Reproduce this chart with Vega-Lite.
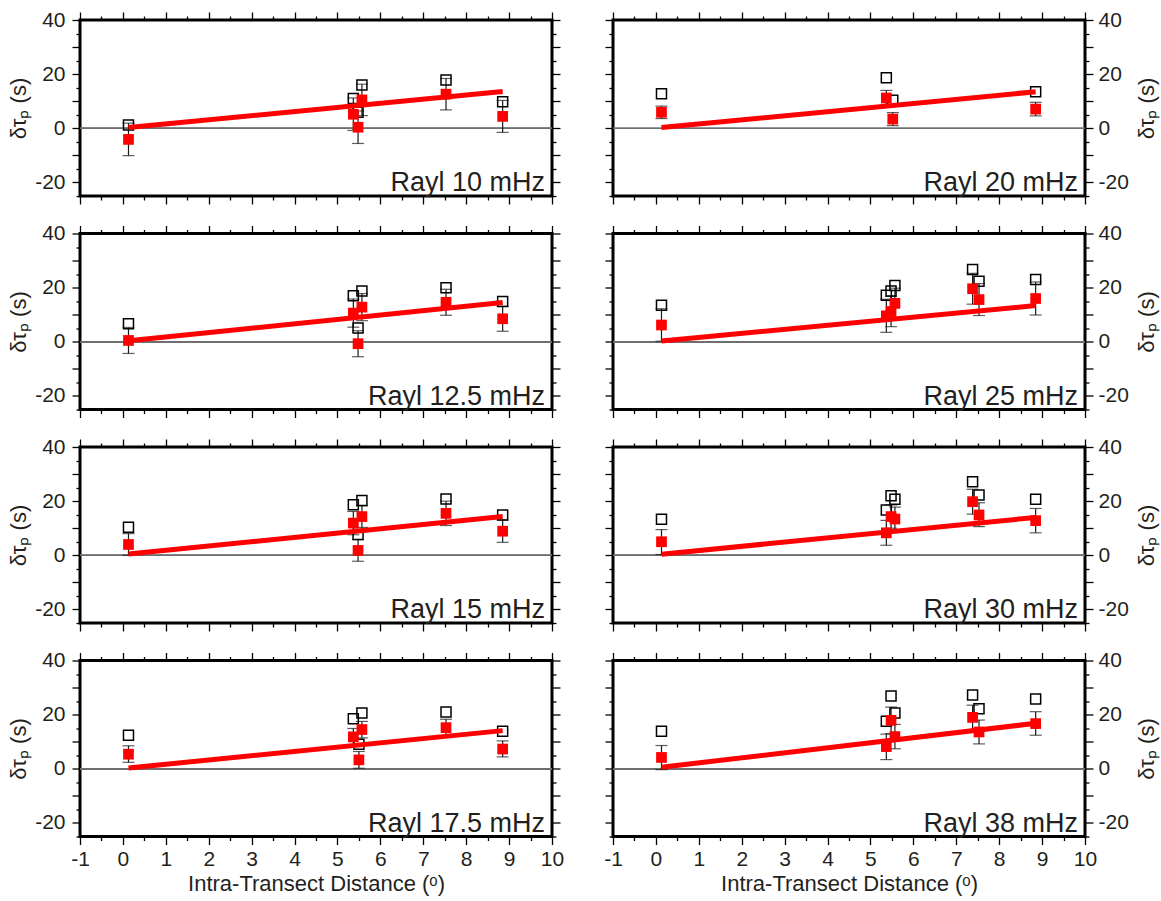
{
"$schema": "https://vega.github.io/schema/vega-lite/v6.json",
"padding": {"left": 6, "top": 7, "right": 5, "bottom": 5},
"background": "white",
"config": {
  "font": "Liberation Sans",
  "view": {"stroke": "black", "strokeWidth": 3},
  "axis": {"grid": false, "domain": false, "tickColor": "black", "tickWidth": 1.3, "labelFontSize": 21, "labelColor": "#231f20", "titleFontSize": 22, "titleFontWeight": "normal", "titleColor": "#231f20", "labelFont": "Liberation Sans", "titleFont": "Liberation Sans", "labelFlush": false, "labelOverlap": false}
},
"datasets": {
  "pts": [
    {"panel":"Rayl 10 mHz","d":0.13,"open":1.2,"red":-4.1,"lo":-10.1,"hi":1.9},
    {"panel":"Rayl 10 mHz","d":5.37,"open":11.0,"red":5.2,"lo":-0.8,"hi":11.2},
    {"panel":"Rayl 10 mHz","d":5.48,"open":5.9,"red":0.4,"lo":-5.6,"hi":6.4},
    {"panel":"Rayl 10 mHz","d":5.57,"open":16.0,"red":10.5,"lo":4.7,"hi":16.3},
    {"panel":"Rayl 10 mHz","d":7.53,"open":17.8,"red":12.6,"lo":6.8,"hi":18.4},
    {"panel":"Rayl 10 mHz","d":8.85,"open":9.8,"red":4.4,"lo":-1.5,"hi":10.3},
    {"panel":"Rayl 20 mHz","d":0.13,"open":12.8,"red":5.9,"lo":3.6,"hi":8.2},
    {"panel":"Rayl 20 mHz","d":5.37,"open":18.7,"red":11.2,"lo":8.4,"hi":14.0},
    {"panel":"Rayl 20 mHz","d":5.52,"open":10.4,"red":3.4,"lo":1.0,"hi":5.8},
    {"panel":"Rayl 20 mHz","d":8.85,"open":13.5,"red":7.1,"lo":4.6,"hi":9.6},
    {"panel":"Rayl 12.5 mHz","d":0.13,"open":6.7,"red":0.5,"lo":-4.3,"hi":5.3},
    {"panel":"Rayl 12.5 mHz","d":5.37,"open":17.0,"red":10.6,"lo":5.4,"hi":15.8},
    {"panel":"Rayl 12.5 mHz","d":5.48,"open":5.1,"red":-0.7,"lo":-5.5,"hi":4.1},
    {"panel":"Rayl 12.5 mHz","d":5.57,"open":18.8,"red":12.8,"lo":7.8,"hi":17.8},
    {"panel":"Rayl 12.5 mHz","d":7.53,"open":20.0,"red":14.6,"lo":9.8,"hi":19.4},
    {"panel":"Rayl 12.5 mHz","d":8.85,"open":14.9,"red":8.5,"lo":3.9,"hi":13.1},
    {"panel":"Rayl 25 mHz","d":0.13,"open":13.5,"red":6.2,"lo":0.2,"hi":12.2},
    {"panel":"Rayl 25 mHz","d":5.37,"open":17.2,"red":9.6,"lo":3.5,"hi":15.7},
    {"panel":"Rayl 25 mHz","d":5.48,"open":18.8,"red":11.2,"lo":5.6,"hi":16.8},
    {"panel":"Rayl 25 mHz","d":5.57,"open":20.8,"red":14.2,"lo":8.6,"hi":19.8},
    {"panel":"Rayl 25 mHz","d":7.38,"open":26.7,"red":19.6,"lo":13.9,"hi":25.3},
    {"panel":"Rayl 25 mHz","d":7.53,"open":22.4,"red":15.6,"lo":9.7,"hi":21.5},
    {"panel":"Rayl 25 mHz","d":8.85,"open":23.0,"red":16.0,"lo":9.9,"hi":22.1},
    {"panel":"Rayl 15 mHz","d":0.13,"open":10.4,"red":4.0,"lo":0.0,"hi":8.0},
    {"panel":"Rayl 15 mHz","d":5.37,"open":18.7,"red":11.9,"lo":7.6,"hi":16.2},
    {"panel":"Rayl 15 mHz","d":5.48,"open":7.7,"red":1.8,"lo":-2.2,"hi":5.8},
    {"panel":"Rayl 15 mHz","d":5.57,"open":20.2,"red":14.3,"lo":10.3,"hi":18.3},
    {"panel":"Rayl 15 mHz","d":7.53,"open":20.8,"red":15.5,"lo":11.0,"hi":20.0},
    {"panel":"Rayl 15 mHz","d":8.85,"open":14.9,"red":8.9,"lo":4.8,"hi":13.0},
    {"panel":"Rayl 30 mHz","d":0.13,"open":13.3,"red":5.0,"lo":0.3,"hi":9.5},
    {"panel":"Rayl 30 mHz","d":5.37,"open":16.7,"red":8.3,"lo":3.7,"hi":12.9},
    {"panel":"Rayl 30 mHz","d":5.48,"open":22.0,"red":14.3,"lo":10.0,"hi":18.6},
    {"panel":"Rayl 30 mHz","d":5.57,"open":20.7,"red":13.4,"lo":9.2,"hi":17.8},
    {"panel":"Rayl 30 mHz","d":7.38,"open":27.2,"red":19.8,"lo":15.2,"hi":24.4},
    {"panel":"Rayl 30 mHz","d":7.53,"open":22.3,"red":14.9,"lo":10.6,"hi":19.4},
    {"panel":"Rayl 30 mHz","d":8.85,"open":20.7,"red":12.8,"lo":8.3,"hi":17.3},
    {"panel":"Rayl 17.5 mHz","d":0.13,"open":12.4,"red":5.4,"lo":2.4,"hi":8.5},
    {"panel":"Rayl 17.5 mHz","d":5.37,"open":18.5,"red":11.8,"lo":8.6,"hi":14.9},
    {"panel":"Rayl 17.5 mHz","d":5.50,"open":9.1,"red":3.3,"lo":0.2,"hi":6.4},
    {"panel":"Rayl 17.5 mHz","d":5.57,"open":20.6,"red":14.5,"lo":11.4,"hi":17.5},
    {"panel":"Rayl 17.5 mHz","d":7.53,"open":21.0,"red":15.2,"lo":12.1,"hi":18.3},
    {"panel":"Rayl 17.5 mHz","d":8.85,"open":13.9,"red":7.3,"lo":4.4,"hi":10.3},
    {"panel":"Rayl 38 mHz","d":0.13,"open":13.9,"red":4.2,"lo":-0.3,"hi":8.6},
    {"panel":"Rayl 38 mHz","d":5.37,"open":17.6,"red":8.2,"lo":3.4,"hi":12.8},
    {"panel":"Rayl 38 mHz","d":5.48,"open":26.9,"red":17.9,"lo":13.0,"hi":22.8},
    {"panel":"Rayl 38 mHz","d":5.57,"open":20.6,"red":11.9,"lo":7.4,"hi":16.4},
    {"panel":"Rayl 38 mHz","d":7.38,"open":27.3,"red":19.0,"lo":14.5,"hi":23.5},
    {"panel":"Rayl 38 mHz","d":7.53,"open":22.2,"red":13.6,"lo":9.2,"hi":18.0},
    {"panel":"Rayl 38 mHz","d":8.85,"open":25.8,"red":16.7,"lo":12.4,"hi":21.1}
  ],
  "fit": [
    {"panel":"Rayl 10 mHz","d":0.13,"fit":0.3},{"panel":"Rayl 10 mHz","d":8.85,"fit":13.6},
    {"panel":"Rayl 20 mHz","d":0.13,"fit":0.3},{"panel":"Rayl 20 mHz","d":8.85,"fit":13.5},
    {"panel":"Rayl 12.5 mHz","d":0.13,"fit":0.4},{"panel":"Rayl 12.5 mHz","d":8.85,"fit":14.5},
    {"panel":"Rayl 25 mHz","d":0.13,"fit":0.3},{"panel":"Rayl 25 mHz","d":8.85,"fit":13.4},
    {"panel":"Rayl 15 mHz","d":0.13,"fit":0.5},{"panel":"Rayl 15 mHz","d":8.85,"fit":14.3},
    {"panel":"Rayl 30 mHz","d":0.13,"fit":0.4},{"panel":"Rayl 30 mHz","d":8.85,"fit":14.0},
    {"panel":"Rayl 17.5 mHz","d":0.13,"fit":0.3},{"panel":"Rayl 17.5 mHz","d":8.85,"fit":14.1},
    {"panel":"Rayl 38 mHz","d":0.13,"fit":0.6},{"panel":"Rayl 38 mHz","d":8.85,"fit":16.8}
  ]
},
"columns": 2,
"spacing": {"row": 37.5, "column": 61},
"bounds": "flush",
"concat": [
{"width":472,"height":176,"resolve":{"axis":{"x":"independent","y":"independent"}},"layer":[
 {"data":{"name":"pts"},"transform":[{"filter":{"field":"panel","equal":"Rayl 10 mHz"}}],"mark":{"type":"rule","color":"#6e6e6e","strokeWidth":1.2},"encoding":{"y":{"datum":0,"type":"quantitative","scale":{"domain":[-25,40],"nice":false,"zero":false},"axis":{"orient":"left","values":[-20,-10,0,10,20,30,40],"tickSize":8,"labelExpr":"datum.value % 20 == 0 ? '' + datum.value : ''","labelPadding":7,"title":"δτₚ (s)","titlePadding":4}}}},
 {"data":{"name":"pts"},"transform":[{"filter":{"field":"panel","equal":"Rayl 10 mHz"}}],"mark":{"type":"rule","color":"#1a1a1a","strokeWidth":1.2},"encoding":{"x":{"field":"d","type":"quantitative","scale":{"domain":[-1,10],"nice":false,"zero":false},"axis":{"orient":"bottom","values":[-1,0,1,2,3,4,5,6,7,8,9,10],"tickSize":8,"labels":false,"title":null}},"y":{"field":"lo","type":"quantitative","scale":{"domain":[-25,40],"nice":false,"zero":false},"axis":{"orient":"left","values":[-25,-15,-5,5,15,25,35],"tickSize":4,"labels":false,"title":null}},"y2":{"field":"hi"}}},
 {"data":{"name":"pts"},"transform":[{"filter":{"field":"panel","equal":"Rayl 10 mHz"}}],"mark":{"type":"tick","orient":"horizontal","size":12,"thickness":1.2,"color":"#1a1a1a"},"encoding":{"x":{"field":"d","type":"quantitative","scale":{"domain":[-1,10],"nice":false,"zero":false},"axis":{"orient":"bottom","values":[-0.5,0.5,1.5,2.5,3.5,4.5,5.5,6.5,7.5,8.5,9.5],"tickSize":4,"labels":false,"title":null}},"y":{"field":"lo","type":"quantitative","scale":{"domain":[-25,40],"nice":false,"zero":false},"axis":{"orient":"right","values":[-20,-10,0,10,20,30,40],"tickSize":8,"labels":false,"title":null}}}},
 {"data":{"name":"pts"},"transform":[{"filter":{"field":"panel","equal":"Rayl 10 mHz"}}],"mark":{"type":"tick","orient":"horizontal","size":12,"thickness":1.2,"color":"#1a1a1a"},"encoding":{"x":{"field":"d","type":"quantitative","scale":{"domain":[-1,10],"nice":false,"zero":false},"axis":{"orient":"top","values":[-1,0,1,2,3,4,5,6,7,8,9,10],"tickSize":8,"labels":false,"title":null}},"y":{"field":"hi","type":"quantitative","scale":{"domain":[-25,40],"nice":false,"zero":false},"axis":{"orient":"right","values":[-25,-15,-5,5,15,25,35],"tickSize":4,"labels":false,"title":null}}}},
 {"data":{"name":"pts"},"transform":[{"filter":{"field":"panel","equal":"Rayl 10 mHz"}}],"mark":{"type":"point","shape":"square","filled":false,"color":"black","strokeWidth":1.5,"size":100,"opacity":1},"encoding":{"x":{"field":"d","type":"quantitative","scale":{"domain":[-1,10],"nice":false,"zero":false},"axis":{"orient":"top","values":[-0.5,0.5,1.5,2.5,3.5,4.5,5.5,6.5,7.5,8.5,9.5],"tickSize":4,"labels":false,"title":null}},"y":{"field":"open","type":"quantitative","scale":{"domain":[-25,40],"nice":false,"zero":false},"axis":null}}},
 {"data":{"name":"fit"},"transform":[{"filter":{"field":"panel","equal":"Rayl 10 mHz"}}],"mark":{"type":"line","color":"red","strokeWidth":5},"encoding":{"x":{"field":"d","type":"quantitative","scale":{"domain":[-1,10],"nice":false,"zero":false},"axis":null},"y":{"field":"fit","type":"quantitative","scale":{"domain":[-25,40],"nice":false,"zero":false},"axis":null}}},
 {"data":{"name":"pts"},"transform":[{"filter":{"field":"panel","equal":"Rayl 10 mHz"}}],"mark":{"type":"point","shape":"square","filled":true,"color":"red","size":115,"opacity":1},"encoding":{"x":{"field":"d","type":"quantitative","scale":{"domain":[-1,10],"nice":false,"zero":false},"axis":null},"y":{"field":"red","type":"quantitative","scale":{"domain":[-25,40],"nice":false,"zero":false},"axis":null}}},
 {"data":{"name":"fit"},"transform":[{"filter":{"field":"panel","equal":"Rayl 10 mHz"}},{"filter":"datum.d > 5"}],"mark":{"type":"text","align":"right","baseline":"alphabetic","dx":-7,"dy":-5,"fontSize":27,"color":"#231f20"},"encoding":{"x":{"datum":10,"type":"quantitative","scale":{"domain":[-1,10],"nice":false,"zero":false},"axis":null},"y":{"datum":-25,"type":"quantitative","scale":{"domain":[-25,40],"nice":false,"zero":false},"axis":null},"text":{"field":"panel"}}}
]},
{"width":472,"height":176,"resolve":{"axis":{"x":"independent","y":"independent"}},"layer":[
 {"data":{"name":"pts"},"transform":[{"filter":{"field":"panel","equal":"Rayl 20 mHz"}}],"mark":{"type":"rule","color":"#6e6e6e","strokeWidth":1.2},"encoding":{"y":{"datum":0,"type":"quantitative","scale":{"domain":[-25,40],"nice":false,"zero":false},"axis":{"orient":"left","values":[-20,-10,0,10,20,30,40],"tickSize":8,"labels":false,"title":null}}}},
 {"data":{"name":"pts"},"transform":[{"filter":{"field":"panel","equal":"Rayl 20 mHz"}}],"mark":{"type":"rule","color":"#1a1a1a","strokeWidth":1.2},"encoding":{"x":{"field":"d","type":"quantitative","scale":{"domain":[-1,10],"nice":false,"zero":false},"axis":{"orient":"bottom","values":[-1,0,1,2,3,4,5,6,7,8,9,10],"tickSize":8,"labels":false,"title":null}},"y":{"field":"lo","type":"quantitative","scale":{"domain":[-25,40],"nice":false,"zero":false},"axis":{"orient":"left","values":[-25,-15,-5,5,15,25,35],"tickSize":4,"labels":false,"title":null}},"y2":{"field":"hi"}}},
 {"data":{"name":"pts"},"transform":[{"filter":{"field":"panel","equal":"Rayl 20 mHz"}}],"mark":{"type":"tick","orient":"horizontal","size":12,"thickness":1.2,"color":"#1a1a1a"},"encoding":{"x":{"field":"d","type":"quantitative","scale":{"domain":[-1,10],"nice":false,"zero":false},"axis":{"orient":"bottom","values":[-0.5,0.5,1.5,2.5,3.5,4.5,5.5,6.5,7.5,8.5,9.5],"tickSize":4,"labels":false,"title":null}},"y":{"field":"lo","type":"quantitative","scale":{"domain":[-25,40],"nice":false,"zero":false},"axis":{"orient":"right","values":[-20,-10,0,10,20,30,40],"tickSize":8,"labelExpr":"datum.value % 20 == 0 ? '' + datum.value : ''","labelPadding":5,"title":"δτₚ (s)","titleAngle":270,"titleBaseline":"top","titlePadding":8}}}},
 {"data":{"name":"pts"},"transform":[{"filter":{"field":"panel","equal":"Rayl 20 mHz"}}],"mark":{"type":"tick","orient":"horizontal","size":12,"thickness":1.2,"color":"#1a1a1a"},"encoding":{"x":{"field":"d","type":"quantitative","scale":{"domain":[-1,10],"nice":false,"zero":false},"axis":{"orient":"top","values":[-1,0,1,2,3,4,5,6,7,8,9,10],"tickSize":8,"labels":false,"title":null}},"y":{"field":"hi","type":"quantitative","scale":{"domain":[-25,40],"nice":false,"zero":false},"axis":{"orient":"right","values":[-25,-15,-5,5,15,25,35],"tickSize":4,"labels":false,"title":null}}}},
 {"data":{"name":"pts"},"transform":[{"filter":{"field":"panel","equal":"Rayl 20 mHz"}}],"mark":{"type":"point","shape":"square","filled":false,"color":"black","strokeWidth":1.5,"size":100,"opacity":1},"encoding":{"x":{"field":"d","type":"quantitative","scale":{"domain":[-1,10],"nice":false,"zero":false},"axis":{"orient":"top","values":[-0.5,0.5,1.5,2.5,3.5,4.5,5.5,6.5,7.5,8.5,9.5],"tickSize":4,"labels":false,"title":null}},"y":{"field":"open","type":"quantitative","scale":{"domain":[-25,40],"nice":false,"zero":false},"axis":null}}},
 {"data":{"name":"fit"},"transform":[{"filter":{"field":"panel","equal":"Rayl 20 mHz"}}],"mark":{"type":"line","color":"red","strokeWidth":5},"encoding":{"x":{"field":"d","type":"quantitative","scale":{"domain":[-1,10],"nice":false,"zero":false},"axis":null},"y":{"field":"fit","type":"quantitative","scale":{"domain":[-25,40],"nice":false,"zero":false},"axis":null}}},
 {"data":{"name":"pts"},"transform":[{"filter":{"field":"panel","equal":"Rayl 20 mHz"}}],"mark":{"type":"point","shape":"square","filled":true,"color":"red","size":115,"opacity":1},"encoding":{"x":{"field":"d","type":"quantitative","scale":{"domain":[-1,10],"nice":false,"zero":false},"axis":null},"y":{"field":"red","type":"quantitative","scale":{"domain":[-25,40],"nice":false,"zero":false},"axis":null}}},
 {"data":{"name":"fit"},"transform":[{"filter":{"field":"panel","equal":"Rayl 20 mHz"}},{"filter":"datum.d > 5"}],"mark":{"type":"text","align":"right","baseline":"alphabetic","dx":-7,"dy":-5,"fontSize":27,"color":"#231f20"},"encoding":{"x":{"datum":10,"type":"quantitative","scale":{"domain":[-1,10],"nice":false,"zero":false},"axis":null},"y":{"datum":-25,"type":"quantitative","scale":{"domain":[-25,40],"nice":false,"zero":false},"axis":null},"text":{"field":"panel"}}}
]},
{"width":472,"height":176,"resolve":{"axis":{"x":"independent","y":"independent"}},"layer":[
 {"data":{"name":"pts"},"transform":[{"filter":{"field":"panel","equal":"Rayl 12.5 mHz"}}],"mark":{"type":"rule","color":"#6e6e6e","strokeWidth":1.2},"encoding":{"y":{"datum":0,"type":"quantitative","scale":{"domain":[-25,40],"nice":false,"zero":false},"axis":{"orient":"left","values":[-20,-10,0,10,20,30,40],"tickSize":8,"labelExpr":"datum.value % 20 == 0 ? '' + datum.value : ''","labelPadding":7,"title":"δτₚ (s)","titlePadding":4}}}},
 {"data":{"name":"pts"},"transform":[{"filter":{"field":"panel","equal":"Rayl 12.5 mHz"}}],"mark":{"type":"rule","color":"#1a1a1a","strokeWidth":1.2},"encoding":{"x":{"field":"d","type":"quantitative","scale":{"domain":[-1,10],"nice":false,"zero":false},"axis":{"orient":"bottom","values":[-1,0,1,2,3,4,5,6,7,8,9,10],"tickSize":8,"labels":false,"title":null}},"y":{"field":"lo","type":"quantitative","scale":{"domain":[-25,40],"nice":false,"zero":false},"axis":{"orient":"left","values":[-25,-15,-5,5,15,25,35],"tickSize":4,"labels":false,"title":null}},"y2":{"field":"hi"}}},
 {"data":{"name":"pts"},"transform":[{"filter":{"field":"panel","equal":"Rayl 12.5 mHz"}}],"mark":{"type":"tick","orient":"horizontal","size":12,"thickness":1.2,"color":"#1a1a1a"},"encoding":{"x":{"field":"d","type":"quantitative","scale":{"domain":[-1,10],"nice":false,"zero":false},"axis":{"orient":"bottom","values":[-0.5,0.5,1.5,2.5,3.5,4.5,5.5,6.5,7.5,8.5,9.5],"tickSize":4,"labels":false,"title":null}},"y":{"field":"lo","type":"quantitative","scale":{"domain":[-25,40],"nice":false,"zero":false},"axis":{"orient":"right","values":[-20,-10,0,10,20,30,40],"tickSize":8,"labels":false,"title":null}}}},
 {"data":{"name":"pts"},"transform":[{"filter":{"field":"panel","equal":"Rayl 12.5 mHz"}}],"mark":{"type":"tick","orient":"horizontal","size":12,"thickness":1.2,"color":"#1a1a1a"},"encoding":{"x":{"field":"d","type":"quantitative","scale":{"domain":[-1,10],"nice":false,"zero":false},"axis":{"orient":"top","values":[-1,0,1,2,3,4,5,6,7,8,9,10],"tickSize":8,"labels":false,"title":null}},"y":{"field":"hi","type":"quantitative","scale":{"domain":[-25,40],"nice":false,"zero":false},"axis":{"orient":"right","values":[-25,-15,-5,5,15,25,35],"tickSize":4,"labels":false,"title":null}}}},
 {"data":{"name":"pts"},"transform":[{"filter":{"field":"panel","equal":"Rayl 12.5 mHz"}}],"mark":{"type":"point","shape":"square","filled":false,"color":"black","strokeWidth":1.5,"size":100,"opacity":1},"encoding":{"x":{"field":"d","type":"quantitative","scale":{"domain":[-1,10],"nice":false,"zero":false},"axis":{"orient":"top","values":[-0.5,0.5,1.5,2.5,3.5,4.5,5.5,6.5,7.5,8.5,9.5],"tickSize":4,"labels":false,"title":null}},"y":{"field":"open","type":"quantitative","scale":{"domain":[-25,40],"nice":false,"zero":false},"axis":null}}},
 {"data":{"name":"fit"},"transform":[{"filter":{"field":"panel","equal":"Rayl 12.5 mHz"}}],"mark":{"type":"line","color":"red","strokeWidth":5},"encoding":{"x":{"field":"d","type":"quantitative","scale":{"domain":[-1,10],"nice":false,"zero":false},"axis":null},"y":{"field":"fit","type":"quantitative","scale":{"domain":[-25,40],"nice":false,"zero":false},"axis":null}}},
 {"data":{"name":"pts"},"transform":[{"filter":{"field":"panel","equal":"Rayl 12.5 mHz"}}],"mark":{"type":"point","shape":"square","filled":true,"color":"red","size":115,"opacity":1},"encoding":{"x":{"field":"d","type":"quantitative","scale":{"domain":[-1,10],"nice":false,"zero":false},"axis":null},"y":{"field":"red","type":"quantitative","scale":{"domain":[-25,40],"nice":false,"zero":false},"axis":null}}},
 {"data":{"name":"fit"},"transform":[{"filter":{"field":"panel","equal":"Rayl 12.5 mHz"}},{"filter":"datum.d > 5"}],"mark":{"type":"text","align":"right","baseline":"alphabetic","dx":-7,"dy":-5,"fontSize":27,"color":"#231f20"},"encoding":{"x":{"datum":10,"type":"quantitative","scale":{"domain":[-1,10],"nice":false,"zero":false},"axis":null},"y":{"datum":-25,"type":"quantitative","scale":{"domain":[-25,40],"nice":false,"zero":false},"axis":null},"text":{"field":"panel"}}}
]},
{"width":472,"height":176,"resolve":{"axis":{"x":"independent","y":"independent"}},"layer":[
 {"data":{"name":"pts"},"transform":[{"filter":{"field":"panel","equal":"Rayl 25 mHz"}}],"mark":{"type":"rule","color":"#6e6e6e","strokeWidth":1.2},"encoding":{"y":{"datum":0,"type":"quantitative","scale":{"domain":[-25,40],"nice":false,"zero":false},"axis":{"orient":"left","values":[-20,-10,0,10,20,30,40],"tickSize":8,"labels":false,"title":null}}}},
 {"data":{"name":"pts"},"transform":[{"filter":{"field":"panel","equal":"Rayl 25 mHz"}}],"mark":{"type":"rule","color":"#1a1a1a","strokeWidth":1.2},"encoding":{"x":{"field":"d","type":"quantitative","scale":{"domain":[-1,10],"nice":false,"zero":false},"axis":{"orient":"bottom","values":[-1,0,1,2,3,4,5,6,7,8,9,10],"tickSize":8,"labels":false,"title":null}},"y":{"field":"lo","type":"quantitative","scale":{"domain":[-25,40],"nice":false,"zero":false},"axis":{"orient":"left","values":[-25,-15,-5,5,15,25,35],"tickSize":4,"labels":false,"title":null}},"y2":{"field":"hi"}}},
 {"data":{"name":"pts"},"transform":[{"filter":{"field":"panel","equal":"Rayl 25 mHz"}}],"mark":{"type":"tick","orient":"horizontal","size":12,"thickness":1.2,"color":"#1a1a1a"},"encoding":{"x":{"field":"d","type":"quantitative","scale":{"domain":[-1,10],"nice":false,"zero":false},"axis":{"orient":"bottom","values":[-0.5,0.5,1.5,2.5,3.5,4.5,5.5,6.5,7.5,8.5,9.5],"tickSize":4,"labels":false,"title":null}},"y":{"field":"lo","type":"quantitative","scale":{"domain":[-25,40],"nice":false,"zero":false},"axis":{"orient":"right","values":[-20,-10,0,10,20,30,40],"tickSize":8,"labelExpr":"datum.value % 20 == 0 ? '' + datum.value : ''","labelPadding":5,"title":"δτₚ (s)","titleAngle":270,"titleBaseline":"top","titlePadding":8}}}},
 {"data":{"name":"pts"},"transform":[{"filter":{"field":"panel","equal":"Rayl 25 mHz"}}],"mark":{"type":"tick","orient":"horizontal","size":12,"thickness":1.2,"color":"#1a1a1a"},"encoding":{"x":{"field":"d","type":"quantitative","scale":{"domain":[-1,10],"nice":false,"zero":false},"axis":{"orient":"top","values":[-1,0,1,2,3,4,5,6,7,8,9,10],"tickSize":8,"labels":false,"title":null}},"y":{"field":"hi","type":"quantitative","scale":{"domain":[-25,40],"nice":false,"zero":false},"axis":{"orient":"right","values":[-25,-15,-5,5,15,25,35],"tickSize":4,"labels":false,"title":null}}}},
 {"data":{"name":"pts"},"transform":[{"filter":{"field":"panel","equal":"Rayl 25 mHz"}}],"mark":{"type":"point","shape":"square","filled":false,"color":"black","strokeWidth":1.5,"size":100,"opacity":1},"encoding":{"x":{"field":"d","type":"quantitative","scale":{"domain":[-1,10],"nice":false,"zero":false},"axis":{"orient":"top","values":[-0.5,0.5,1.5,2.5,3.5,4.5,5.5,6.5,7.5,8.5,9.5],"tickSize":4,"labels":false,"title":null}},"y":{"field":"open","type":"quantitative","scale":{"domain":[-25,40],"nice":false,"zero":false},"axis":null}}},
 {"data":{"name":"fit"},"transform":[{"filter":{"field":"panel","equal":"Rayl 25 mHz"}}],"mark":{"type":"line","color":"red","strokeWidth":5},"encoding":{"x":{"field":"d","type":"quantitative","scale":{"domain":[-1,10],"nice":false,"zero":false},"axis":null},"y":{"field":"fit","type":"quantitative","scale":{"domain":[-25,40],"nice":false,"zero":false},"axis":null}}},
 {"data":{"name":"pts"},"transform":[{"filter":{"field":"panel","equal":"Rayl 25 mHz"}}],"mark":{"type":"point","shape":"square","filled":true,"color":"red","size":115,"opacity":1},"encoding":{"x":{"field":"d","type":"quantitative","scale":{"domain":[-1,10],"nice":false,"zero":false},"axis":null},"y":{"field":"red","type":"quantitative","scale":{"domain":[-25,40],"nice":false,"zero":false},"axis":null}}},
 {"data":{"name":"fit"},"transform":[{"filter":{"field":"panel","equal":"Rayl 25 mHz"}},{"filter":"datum.d > 5"}],"mark":{"type":"text","align":"right","baseline":"alphabetic","dx":-7,"dy":-5,"fontSize":27,"color":"#231f20"},"encoding":{"x":{"datum":10,"type":"quantitative","scale":{"domain":[-1,10],"nice":false,"zero":false},"axis":null},"y":{"datum":-25,"type":"quantitative","scale":{"domain":[-25,40],"nice":false,"zero":false},"axis":null},"text":{"field":"panel"}}}
]},
{"width":472,"height":176,"resolve":{"axis":{"x":"independent","y":"independent"}},"layer":[
 {"data":{"name":"pts"},"transform":[{"filter":{"field":"panel","equal":"Rayl 15 mHz"}}],"mark":{"type":"rule","color":"#6e6e6e","strokeWidth":1.2},"encoding":{"y":{"datum":0,"type":"quantitative","scale":{"domain":[-25,40],"nice":false,"zero":false},"axis":{"orient":"left","values":[-20,-10,0,10,20,30,40],"tickSize":8,"labelExpr":"datum.value % 20 == 0 ? '' + datum.value : ''","labelPadding":7,"title":"δτₚ (s)","titlePadding":4}}}},
 {"data":{"name":"pts"},"transform":[{"filter":{"field":"panel","equal":"Rayl 15 mHz"}}],"mark":{"type":"rule","color":"#1a1a1a","strokeWidth":1.2},"encoding":{"x":{"field":"d","type":"quantitative","scale":{"domain":[-1,10],"nice":false,"zero":false},"axis":{"orient":"bottom","values":[-1,0,1,2,3,4,5,6,7,8,9,10],"tickSize":8,"labels":false,"title":null}},"y":{"field":"lo","type":"quantitative","scale":{"domain":[-25,40],"nice":false,"zero":false},"axis":{"orient":"left","values":[-25,-15,-5,5,15,25,35],"tickSize":4,"labels":false,"title":null}},"y2":{"field":"hi"}}},
 {"data":{"name":"pts"},"transform":[{"filter":{"field":"panel","equal":"Rayl 15 mHz"}}],"mark":{"type":"tick","orient":"horizontal","size":12,"thickness":1.2,"color":"#1a1a1a"},"encoding":{"x":{"field":"d","type":"quantitative","scale":{"domain":[-1,10],"nice":false,"zero":false},"axis":{"orient":"bottom","values":[-0.5,0.5,1.5,2.5,3.5,4.5,5.5,6.5,7.5,8.5,9.5],"tickSize":4,"labels":false,"title":null}},"y":{"field":"lo","type":"quantitative","scale":{"domain":[-25,40],"nice":false,"zero":false},"axis":{"orient":"right","values":[-20,-10,0,10,20,30,40],"tickSize":8,"labels":false,"title":null}}}},
 {"data":{"name":"pts"},"transform":[{"filter":{"field":"panel","equal":"Rayl 15 mHz"}}],"mark":{"type":"tick","orient":"horizontal","size":12,"thickness":1.2,"color":"#1a1a1a"},"encoding":{"x":{"field":"d","type":"quantitative","scale":{"domain":[-1,10],"nice":false,"zero":false},"axis":{"orient":"top","values":[-1,0,1,2,3,4,5,6,7,8,9,10],"tickSize":8,"labels":false,"title":null}},"y":{"field":"hi","type":"quantitative","scale":{"domain":[-25,40],"nice":false,"zero":false},"axis":{"orient":"right","values":[-25,-15,-5,5,15,25,35],"tickSize":4,"labels":false,"title":null}}}},
 {"data":{"name":"pts"},"transform":[{"filter":{"field":"panel","equal":"Rayl 15 mHz"}}],"mark":{"type":"point","shape":"square","filled":false,"color":"black","strokeWidth":1.5,"size":100,"opacity":1},"encoding":{"x":{"field":"d","type":"quantitative","scale":{"domain":[-1,10],"nice":false,"zero":false},"axis":{"orient":"top","values":[-0.5,0.5,1.5,2.5,3.5,4.5,5.5,6.5,7.5,8.5,9.5],"tickSize":4,"labels":false,"title":null}},"y":{"field":"open","type":"quantitative","scale":{"domain":[-25,40],"nice":false,"zero":false},"axis":null}}},
 {"data":{"name":"fit"},"transform":[{"filter":{"field":"panel","equal":"Rayl 15 mHz"}}],"mark":{"type":"line","color":"red","strokeWidth":5},"encoding":{"x":{"field":"d","type":"quantitative","scale":{"domain":[-1,10],"nice":false,"zero":false},"axis":null},"y":{"field":"fit","type":"quantitative","scale":{"domain":[-25,40],"nice":false,"zero":false},"axis":null}}},
 {"data":{"name":"pts"},"transform":[{"filter":{"field":"panel","equal":"Rayl 15 mHz"}}],"mark":{"type":"point","shape":"square","filled":true,"color":"red","size":115,"opacity":1},"encoding":{"x":{"field":"d","type":"quantitative","scale":{"domain":[-1,10],"nice":false,"zero":false},"axis":null},"y":{"field":"red","type":"quantitative","scale":{"domain":[-25,40],"nice":false,"zero":false},"axis":null}}},
 {"data":{"name":"fit"},"transform":[{"filter":{"field":"panel","equal":"Rayl 15 mHz"}},{"filter":"datum.d > 5"}],"mark":{"type":"text","align":"right","baseline":"alphabetic","dx":-7,"dy":-5,"fontSize":27,"color":"#231f20"},"encoding":{"x":{"datum":10,"type":"quantitative","scale":{"domain":[-1,10],"nice":false,"zero":false},"axis":null},"y":{"datum":-25,"type":"quantitative","scale":{"domain":[-25,40],"nice":false,"zero":false},"axis":null},"text":{"field":"panel"}}}
]},
{"width":472,"height":176,"resolve":{"axis":{"x":"independent","y":"independent"}},"layer":[
 {"data":{"name":"pts"},"transform":[{"filter":{"field":"panel","equal":"Rayl 30 mHz"}}],"mark":{"type":"rule","color":"#6e6e6e","strokeWidth":1.2},"encoding":{"y":{"datum":0,"type":"quantitative","scale":{"domain":[-25,40],"nice":false,"zero":false},"axis":{"orient":"left","values":[-20,-10,0,10,20,30,40],"tickSize":8,"labels":false,"title":null}}}},
 {"data":{"name":"pts"},"transform":[{"filter":{"field":"panel","equal":"Rayl 30 mHz"}}],"mark":{"type":"rule","color":"#1a1a1a","strokeWidth":1.2},"encoding":{"x":{"field":"d","type":"quantitative","scale":{"domain":[-1,10],"nice":false,"zero":false},"axis":{"orient":"bottom","values":[-1,0,1,2,3,4,5,6,7,8,9,10],"tickSize":8,"labels":false,"title":null}},"y":{"field":"lo","type":"quantitative","scale":{"domain":[-25,40],"nice":false,"zero":false},"axis":{"orient":"left","values":[-25,-15,-5,5,15,25,35],"tickSize":4,"labels":false,"title":null}},"y2":{"field":"hi"}}},
 {"data":{"name":"pts"},"transform":[{"filter":{"field":"panel","equal":"Rayl 30 mHz"}}],"mark":{"type":"tick","orient":"horizontal","size":12,"thickness":1.2,"color":"#1a1a1a"},"encoding":{"x":{"field":"d","type":"quantitative","scale":{"domain":[-1,10],"nice":false,"zero":false},"axis":{"orient":"bottom","values":[-0.5,0.5,1.5,2.5,3.5,4.5,5.5,6.5,7.5,8.5,9.5],"tickSize":4,"labels":false,"title":null}},"y":{"field":"lo","type":"quantitative","scale":{"domain":[-25,40],"nice":false,"zero":false},"axis":{"orient":"right","values":[-20,-10,0,10,20,30,40],"tickSize":8,"labelExpr":"datum.value % 20 == 0 ? '' + datum.value : ''","labelPadding":5,"title":"δτₚ (s)","titleAngle":270,"titleBaseline":"top","titlePadding":8}}}},
 {"data":{"name":"pts"},"transform":[{"filter":{"field":"panel","equal":"Rayl 30 mHz"}}],"mark":{"type":"tick","orient":"horizontal","size":12,"thickness":1.2,"color":"#1a1a1a"},"encoding":{"x":{"field":"d","type":"quantitative","scale":{"domain":[-1,10],"nice":false,"zero":false},"axis":{"orient":"top","values":[-1,0,1,2,3,4,5,6,7,8,9,10],"tickSize":8,"labels":false,"title":null}},"y":{"field":"hi","type":"quantitative","scale":{"domain":[-25,40],"nice":false,"zero":false},"axis":{"orient":"right","values":[-25,-15,-5,5,15,25,35],"tickSize":4,"labels":false,"title":null}}}},
 {"data":{"name":"pts"},"transform":[{"filter":{"field":"panel","equal":"Rayl 30 mHz"}}],"mark":{"type":"point","shape":"square","filled":false,"color":"black","strokeWidth":1.5,"size":100,"opacity":1},"encoding":{"x":{"field":"d","type":"quantitative","scale":{"domain":[-1,10],"nice":false,"zero":false},"axis":{"orient":"top","values":[-0.5,0.5,1.5,2.5,3.5,4.5,5.5,6.5,7.5,8.5,9.5],"tickSize":4,"labels":false,"title":null}},"y":{"field":"open","type":"quantitative","scale":{"domain":[-25,40],"nice":false,"zero":false},"axis":null}}},
 {"data":{"name":"fit"},"transform":[{"filter":{"field":"panel","equal":"Rayl 30 mHz"}}],"mark":{"type":"line","color":"red","strokeWidth":5},"encoding":{"x":{"field":"d","type":"quantitative","scale":{"domain":[-1,10],"nice":false,"zero":false},"axis":null},"y":{"field":"fit","type":"quantitative","scale":{"domain":[-25,40],"nice":false,"zero":false},"axis":null}}},
 {"data":{"name":"pts"},"transform":[{"filter":{"field":"panel","equal":"Rayl 30 mHz"}}],"mark":{"type":"point","shape":"square","filled":true,"color":"red","size":115,"opacity":1},"encoding":{"x":{"field":"d","type":"quantitative","scale":{"domain":[-1,10],"nice":false,"zero":false},"axis":null},"y":{"field":"red","type":"quantitative","scale":{"domain":[-25,40],"nice":false,"zero":false},"axis":null}}},
 {"data":{"name":"fit"},"transform":[{"filter":{"field":"panel","equal":"Rayl 30 mHz"}},{"filter":"datum.d > 5"}],"mark":{"type":"text","align":"right","baseline":"alphabetic","dx":-7,"dy":-5,"fontSize":27,"color":"#231f20"},"encoding":{"x":{"datum":10,"type":"quantitative","scale":{"domain":[-1,10],"nice":false,"zero":false},"axis":null},"y":{"datum":-25,"type":"quantitative","scale":{"domain":[-25,40],"nice":false,"zero":false},"axis":null},"text":{"field":"panel"}}}
]},
{"width":472,"height":176,"resolve":{"axis":{"x":"independent","y":"independent"}},"layer":[
 {"data":{"name":"pts"},"transform":[{"filter":{"field":"panel","equal":"Rayl 17.5 mHz"}}],"mark":{"type":"rule","color":"#6e6e6e","strokeWidth":1.2},"encoding":{"y":{"datum":0,"type":"quantitative","scale":{"domain":[-25,40],"nice":false,"zero":false},"axis":{"orient":"left","values":[-20,-10,0,10,20,30,40],"tickSize":8,"labelExpr":"datum.value % 20 == 0 ? '' + datum.value : ''","labelPadding":7,"title":"δτₚ (s)","titlePadding":4}}}},
 {"data":{"name":"pts"},"transform":[{"filter":{"field":"panel","equal":"Rayl 17.5 mHz"}}],"mark":{"type":"rule","color":"#1a1a1a","strokeWidth":1.2},"encoding":{"x":{"field":"d","type":"quantitative","scale":{"domain":[-1,10],"nice":false,"zero":false},"axis":{"orient":"bottom","values":[-1,0,1,2,3,4,5,6,7,8,9,10],"tickSize":8,"labelExpr":"'' + datum.value","labelPadding":4,"title":"Intra-Transect Distance (ᵒ)","titlePadding":4}},"y":{"field":"lo","type":"quantitative","scale":{"domain":[-25,40],"nice":false,"zero":false},"axis":{"orient":"left","values":[-25,-15,-5,5,15,25,35],"tickSize":4,"labels":false,"title":null}},"y2":{"field":"hi"}}},
 {"data":{"name":"pts"},"transform":[{"filter":{"field":"panel","equal":"Rayl 17.5 mHz"}}],"mark":{"type":"tick","orient":"horizontal","size":12,"thickness":1.2,"color":"#1a1a1a"},"encoding":{"x":{"field":"d","type":"quantitative","scale":{"domain":[-1,10],"nice":false,"zero":false},"axis":{"orient":"bottom","values":[-0.5,0.5,1.5,2.5,3.5,4.5,5.5,6.5,7.5,8.5,9.5],"tickSize":4,"labels":false,"title":null}},"y":{"field":"lo","type":"quantitative","scale":{"domain":[-25,40],"nice":false,"zero":false},"axis":{"orient":"right","values":[-20,-10,0,10,20,30,40],"tickSize":8,"labels":false,"title":null}}}},
 {"data":{"name":"pts"},"transform":[{"filter":{"field":"panel","equal":"Rayl 17.5 mHz"}}],"mark":{"type":"tick","orient":"horizontal","size":12,"thickness":1.2,"color":"#1a1a1a"},"encoding":{"x":{"field":"d","type":"quantitative","scale":{"domain":[-1,10],"nice":false,"zero":false},"axis":{"orient":"top","values":[-1,0,1,2,3,4,5,6,7,8,9,10],"tickSize":8,"labels":false,"title":null}},"y":{"field":"hi","type":"quantitative","scale":{"domain":[-25,40],"nice":false,"zero":false},"axis":{"orient":"right","values":[-25,-15,-5,5,15,25,35],"tickSize":4,"labels":false,"title":null}}}},
 {"data":{"name":"pts"},"transform":[{"filter":{"field":"panel","equal":"Rayl 17.5 mHz"}}],"mark":{"type":"point","shape":"square","filled":false,"color":"black","strokeWidth":1.5,"size":100,"opacity":1},"encoding":{"x":{"field":"d","type":"quantitative","scale":{"domain":[-1,10],"nice":false,"zero":false},"axis":{"orient":"top","values":[-0.5,0.5,1.5,2.5,3.5,4.5,5.5,6.5,7.5,8.5,9.5],"tickSize":4,"labels":false,"title":null}},"y":{"field":"open","type":"quantitative","scale":{"domain":[-25,40],"nice":false,"zero":false},"axis":null}}},
 {"data":{"name":"fit"},"transform":[{"filter":{"field":"panel","equal":"Rayl 17.5 mHz"}}],"mark":{"type":"line","color":"red","strokeWidth":5},"encoding":{"x":{"field":"d","type":"quantitative","scale":{"domain":[-1,10],"nice":false,"zero":false},"axis":null},"y":{"field":"fit","type":"quantitative","scale":{"domain":[-25,40],"nice":false,"zero":false},"axis":null}}},
 {"data":{"name":"pts"},"transform":[{"filter":{"field":"panel","equal":"Rayl 17.5 mHz"}}],"mark":{"type":"point","shape":"square","filled":true,"color":"red","size":115,"opacity":1},"encoding":{"x":{"field":"d","type":"quantitative","scale":{"domain":[-1,10],"nice":false,"zero":false},"axis":null},"y":{"field":"red","type":"quantitative","scale":{"domain":[-25,40],"nice":false,"zero":false},"axis":null}}},
 {"data":{"name":"fit"},"transform":[{"filter":{"field":"panel","equal":"Rayl 17.5 mHz"}},{"filter":"datum.d > 5"}],"mark":{"type":"text","align":"right","baseline":"alphabetic","dx":-7,"dy":-5,"fontSize":27,"color":"#231f20"},"encoding":{"x":{"datum":10,"type":"quantitative","scale":{"domain":[-1,10],"nice":false,"zero":false},"axis":null},"y":{"datum":-25,"type":"quantitative","scale":{"domain":[-25,40],"nice":false,"zero":false},"axis":null},"text":{"field":"panel"}}}
]},
{"width":472,"height":176,"resolve":{"axis":{"x":"independent","y":"independent"}},"layer":[
 {"data":{"name":"pts"},"transform":[{"filter":{"field":"panel","equal":"Rayl 38 mHz"}}],"mark":{"type":"rule","color":"#6e6e6e","strokeWidth":1.2},"encoding":{"y":{"datum":0,"type":"quantitative","scale":{"domain":[-25,40],"nice":false,"zero":false},"axis":{"orient":"left","values":[-20,-10,0,10,20,30,40],"tickSize":8,"labels":false,"title":null}}}},
 {"data":{"name":"pts"},"transform":[{"filter":{"field":"panel","equal":"Rayl 38 mHz"}}],"mark":{"type":"rule","color":"#1a1a1a","strokeWidth":1.2},"encoding":{"x":{"field":"d","type":"quantitative","scale":{"domain":[-1,10],"nice":false,"zero":false},"axis":{"orient":"bottom","values":[-1,0,1,2,3,4,5,6,7,8,9,10],"tickSize":8,"labelExpr":"'' + datum.value","labelPadding":4,"title":"Intra-Transect Distance (ᵒ)","titlePadding":4}},"y":{"field":"lo","type":"quantitative","scale":{"domain":[-25,40],"nice":false,"zero":false},"axis":{"orient":"left","values":[-25,-15,-5,5,15,25,35],"tickSize":4,"labels":false,"title":null}},"y2":{"field":"hi"}}},
 {"data":{"name":"pts"},"transform":[{"filter":{"field":"panel","equal":"Rayl 38 mHz"}}],"mark":{"type":"tick","orient":"horizontal","size":12,"thickness":1.2,"color":"#1a1a1a"},"encoding":{"x":{"field":"d","type":"quantitative","scale":{"domain":[-1,10],"nice":false,"zero":false},"axis":{"orient":"bottom","values":[-0.5,0.5,1.5,2.5,3.5,4.5,5.5,6.5,7.5,8.5,9.5],"tickSize":4,"labels":false,"title":null}},"y":{"field":"lo","type":"quantitative","scale":{"domain":[-25,40],"nice":false,"zero":false},"axis":{"orient":"right","values":[-20,-10,0,10,20,30,40],"tickSize":8,"labelExpr":"datum.value % 20 == 0 ? '' + datum.value : ''","labelPadding":5,"title":"δτₚ (s)","titleAngle":270,"titleBaseline":"top","titlePadding":8}}}},
 {"data":{"name":"pts"},"transform":[{"filter":{"field":"panel","equal":"Rayl 38 mHz"}}],"mark":{"type":"tick","orient":"horizontal","size":12,"thickness":1.2,"color":"#1a1a1a"},"encoding":{"x":{"field":"d","type":"quantitative","scale":{"domain":[-1,10],"nice":false,"zero":false},"axis":{"orient":"top","values":[-1,0,1,2,3,4,5,6,7,8,9,10],"tickSize":8,"labels":false,"title":null}},"y":{"field":"hi","type":"quantitative","scale":{"domain":[-25,40],"nice":false,"zero":false},"axis":{"orient":"right","values":[-25,-15,-5,5,15,25,35],"tickSize":4,"labels":false,"title":null}}}},
 {"data":{"name":"pts"},"transform":[{"filter":{"field":"panel","equal":"Rayl 38 mHz"}}],"mark":{"type":"point","shape":"square","filled":false,"color":"black","strokeWidth":1.5,"size":100,"opacity":1},"encoding":{"x":{"field":"d","type":"quantitative","scale":{"domain":[-1,10],"nice":false,"zero":false},"axis":{"orient":"top","values":[-0.5,0.5,1.5,2.5,3.5,4.5,5.5,6.5,7.5,8.5,9.5],"tickSize":4,"labels":false,"title":null}},"y":{"field":"open","type":"quantitative","scale":{"domain":[-25,40],"nice":false,"zero":false},"axis":null}}},
 {"data":{"name":"fit"},"transform":[{"filter":{"field":"panel","equal":"Rayl 38 mHz"}}],"mark":{"type":"line","color":"red","strokeWidth":5},"encoding":{"x":{"field":"d","type":"quantitative","scale":{"domain":[-1,10],"nice":false,"zero":false},"axis":null},"y":{"field":"fit","type":"quantitative","scale":{"domain":[-25,40],"nice":false,"zero":false},"axis":null}}},
 {"data":{"name":"pts"},"transform":[{"filter":{"field":"panel","equal":"Rayl 38 mHz"}}],"mark":{"type":"point","shape":"square","filled":true,"color":"red","size":115,"opacity":1},"encoding":{"x":{"field":"d","type":"quantitative","scale":{"domain":[-1,10],"nice":false,"zero":false},"axis":null},"y":{"field":"red","type":"quantitative","scale":{"domain":[-25,40],"nice":false,"zero":false},"axis":null}}},
 {"data":{"name":"fit"},"transform":[{"filter":{"field":"panel","equal":"Rayl 38 mHz"}},{"filter":"datum.d > 5"}],"mark":{"type":"text","align":"right","baseline":"alphabetic","dx":-7,"dy":-5,"fontSize":27,"color":"#231f20"},"encoding":{"x":{"datum":10,"type":"quantitative","scale":{"domain":[-1,10],"nice":false,"zero":false},"axis":null},"y":{"datum":-25,"type":"quantitative","scale":{"domain":[-25,40],"nice":false,"zero":false},"axis":null},"text":{"field":"panel"}}}
]}
]
}
